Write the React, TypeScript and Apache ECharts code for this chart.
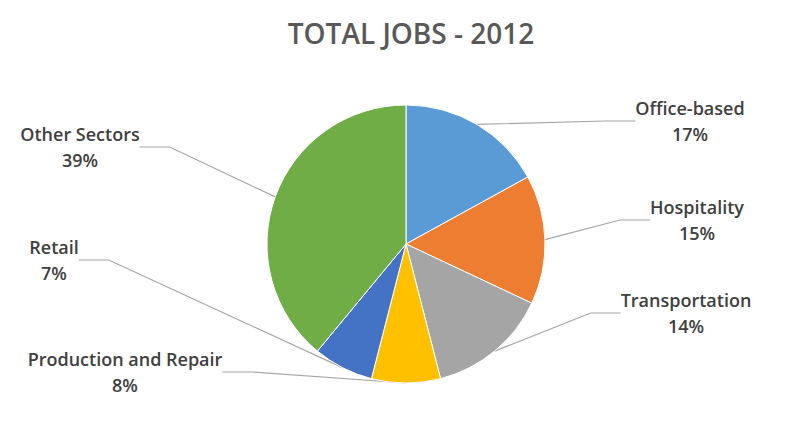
import React, { useEffect, useRef } from "react";
import * as echarts from "echarts";

const categories = ["Office-based", "Hospitality", "Transportation", "Production and Repair", "Retail", "Other Sectors"];
const shares = [17, 15, 14, 8, 7, 39];
const colors = ["#5B9BD5", "#ED7D31", "#A5A5A5", "#FFC000", "#4472C4", "#70AD47"];
const labelSpots: [number, number][] = [
  [682, 113],
  [689, 212],
  [678, 305],
  [117, 364],
  [46, 252],
  [72, 139],
];

export default function App() {
  const ref = useRef<HTMLDivElement>(null);
  useEffect(() => {
    if (!ref.current) return;
    const chart = echarts.init(ref.current, null, { renderer: "svg" });
    chart.setOption({
      animation: false,
      backgroundColor: "#ffffff",
      title: {
        text: "TOTAL JOBS - 2012",
        left: 398,
        textAlign: "center",
        top: 6,
        textStyle: { fontFamily: "Open Sans", fontWeight: 600, fontSize: 28, color: "#595959" },
      },
      series: [
        {
          type: "pie",
          center: [398, 236],
          radius: 139,
          startAngle: 90,
          clockwise: true,
          itemStyle: { borderColor: "#ffffff", borderWidth: 1 },
          data: categories.map((n, i) => ({ name: n, value: shares[i], itemStyle: { color: colors[i] } })),
          label: {
            show: true,
            formatter: "{b}\n{c}%",
            fontFamily: "Open Sans",
            fontWeight: 600,
            fontSize: 18,
            lineHeight: 26,
            color: "#404040",
            align: "center",
          },
          labelLine: { show: true, lineStyle: { color: "#A6A6A6", width: 1.2 } },
          labelLayout: (p: any) => {
            const s = labelSpots[p.dataIndex];
            return { x: s[0], y: s[1], align: "center", verticalAlign: "middle" };
          },
        },
      ],
    });
    return () => chart.dispose();
  }, []);
  return <div ref={ref} style={{ width: 784, height: 414 }} />;
}
